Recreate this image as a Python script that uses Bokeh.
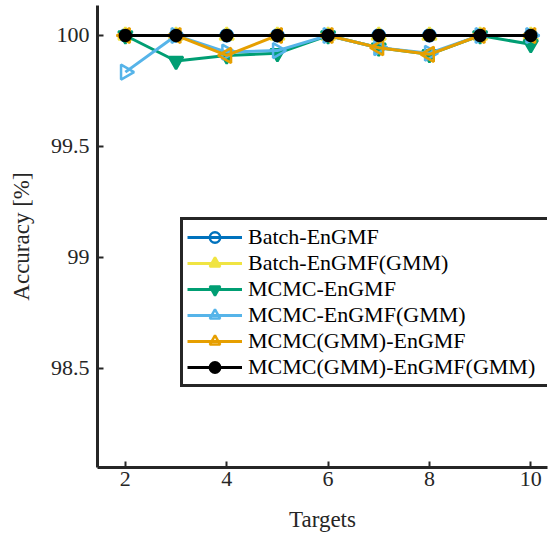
import math
from bokeh.plotting import figure
from bokeh.models import FixedTicker, Range1d, Legend, LegendItem
from bokeh.embed import file_html
from bokeh.resources import INLINE

# ---- data ----
targets = [2, 3, 4, 5, 6, 7, 8, 9, 10]
batch_engmf = [100, 100, 100, 100, 100, 100, 100, 100, 100]
batch_engmf_gmm = [100, 100, 100, 100, 100, 100, 100, 100, 100]
mcmc_engmf = [100, 99.885, 99.91, 99.92, 100, 99.945, 99.915, 100, 99.96]
mcmc_engmf_gmm = [99.835, 100, 99.925, 99.932, 100, 99.945, 99.92, 100, 100]
mcmc_gmm_engmf = [100, 100, 99.91, 100, 100, 99.945, 99.915, 100, 100]
mcmc_gmm_engmf_gmm = [100, 100, 100, 100, 100, 100, 100, 100, 100]

x_ticks = [2, 4, 6, 8, 10]
y_ticks = [98.5, 99, 99.5, 100]
y_tick_labels = ["98.5", "99", "99.5", "100"]

FONT = "Liberation Serif"
AXFONT = "'Liberation Serif'"
AX = "#262626"

p = figure(width=553, height=538,
           x_range=Range1d(1.45, 10.33), y_range=Range1d(98.054, 100.135),
           output_backend="svg", toolbar_location=None,
           min_border_left=97, min_border_right=6, min_border_top=5, min_border_bottom=71)
p.outline_line_color = None
p.xgrid.visible = False
p.ygrid.visible = False
p.background_fill_color = "white"
p.border_fill_color = "white"

series = [
    ("Batch-EnGMF", batch_engmf, "#0072BD", "circle", 0.0, False, 12),
    ("Batch-EnGMF(GMM)", batch_engmf_gmm, "#F0E442", "triangle", 0.0, True, 14),
    ("MCMC-EnGMF", mcmc_engmf, "#009E73", "inverted_triangle", 0.0, True, 14),
    ("MCMC-EnGMF(GMM)", mcmc_engmf_gmm, "#56B4E9", "triangle", -math.pi / 2, False, 15),
    ("MCMC(GMM)-EnGMF", mcmc_gmm_engmf, "#E69F00", "triangle", math.pi / 2, False, 15),
    ("MCMC(GMM)-EnGMF(GMM)", mcmc_gmm_engmf_gmm, "#000000", "circle", 0.0, True, 11),
]

items = []
for name, vals, col, mk, ang, filled, sz in series:
    l = p.line(targets, vals, line_color=col, line_width=3)
    s = p.scatter(targets, vals, marker=mk, angle=ang, size=sz,
                  line_color=col, line_width=2.5,
                  fill_color=col if filled else None)
    items.append(LegendItem(label=name, renderers=[l, s]))

legend = Legend(items=items, location=(83, 80))
legend.label_text_font = FONT
legend.label_text_font_size = "22px"
legend.label_text_color = "black"
legend.glyph_width = 55
legend.glyph_height = 26
legend.label_height = 26
legend.label_width = 306
legend.spacing = 0
legend.padding = 4
legend.label_standoff = 6
legend.border_line_color = AX
legend.border_line_width = 3
legend.border_line_alpha = 1
legend.background_fill_color = "white"
legend.background_fill_alpha = 1
p.add_layout(legend, "center")

for ax in (p.xaxis[0], p.yaxis[0]):
    ax.axis_line_color = AX
    ax.axis_line_width = 3
    ax.major_tick_line_color = AX
    ax.major_tick_line_width = 2
    ax.major_tick_in = 6
    ax.major_tick_out = 0
    ax.minor_tick_line_color = None
    ax.major_label_text_font = AXFONT
    ax.major_label_text_font_size = "22px"
    ax.major_label_text_color = AX
    ax.axis_label_text_font = AXFONT
    ax.axis_label_text_font_size = "23px"
    ax.axis_label_text_font_style = "normal"
    ax.axis_label_text_color = AX

p.xaxis.ticker = FixedTicker(ticks=x_ticks)
p.yaxis.ticker = FixedTicker(ticks=y_ticks)
p.yaxis.major_label_overrides = {t: s for t, s in zip(y_ticks, y_tick_labels)}
p.xaxis.axis_label = "Targets"
p.yaxis.axis_label = "Accuracy [%]"
p.xaxis.major_label_standoff = 4
p.yaxis.major_label_standoff = 8
p.xaxis.axis_label_standoff = 18
p.yaxis.axis_label_standoff = 14

open("out.html", "w").write(file_html(p, INLINE))
